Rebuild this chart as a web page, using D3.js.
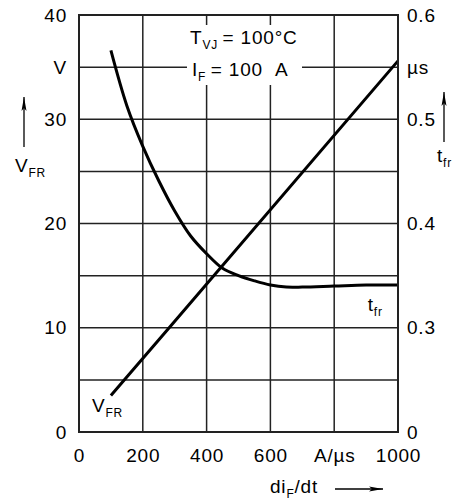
<!DOCTYPE html>
<html>
<head>
<meta charset="utf-8">
<script src="https://cdn.jsdelivr.net/npm/d3@7"></script>
<style>
  body { margin: 0; background: #fff; }
  text { font-family: "Liberation Sans", Arial, sans-serif; fill: #000; letter-spacing: 0.8px; }
</style>
</head>
<body>
<div class="chart"></div>
<script>
// diF/dt in A/us
var didt = [100, 150, 200, 250, 300, 350, 400, 450, 500, 550, 600, 650, 700, 800, 900, 1000];
// t_fr in us (right axis)
var tfr = [0.566, 0.513, 0.474, 0.441, 0.412, 0.388, 0.371, 0.357, 0.350, 0.345, 0.341, 0.339, 0.339, 0.340, 0.341, 0.341];
// V_FR in V (left axis)
var vfrX = [100, 280, 1000];
var vfr = [3.5, 9.9, 35.6];

var xTicks = [0, 200, 400, 600, 800, 1000];
var xLabels = ["0", "200", "400", "600", "A/\u00b5s", "1000"];
var yTicks = [0, 10, 20, 30, 35, 40];
var yLabels = ["0", "10", "20", "30", "V", "40"];
var y2Ticks = [0.2, 0.3, 0.4, 0.5, 0.55, 0.6];
var y2Labels = ["0", "0.3", "0.4", "0.5", "\u00b5s", "0.6"];
var hGrid = [5, 10, 15, 20, 25, 30, 35];
var vGrid = [200, 400, 600, 800];

var margin = {top: 15, right: 69, bottom: 72, left: 79},
    width = 467,
    height = 504,
    w = width - margin.left - margin.right,
    h = height - margin.top - margin.bottom;

var x = d3.scaleLinear().domain([0, 1000]).range([0, w]);
var y = d3.scaleLinear().domain([0, 40]).range([h, 0]);
var y2 = d3.scaleLinear().domain([0.2, 0.6]).range([h, 0]);

var svg = d3.select(".chart")
    .append("svg")
    .attr("width", width)
    .attr("height", height);

var g = svg.append("g")
    .attr("transform", "translate(" + margin.left + "," + margin.top + ")");

// grid
g.append("g").selectAll("line")
    .data(hGrid)
    .enter().append("line")
    .attr("x1", 0).attr("x2", w)
    .attr("y1", function(d) { return y(d); })
    .attr("y2", function(d) { return y(d); })
    .attr("stroke", "#222").attr("stroke-width", 1.5);

g.append("g").selectAll("line")
    .data(vGrid)
    .enter().append("line")
    .attr("y1", 0).attr("y2", h)
    .attr("x1", function(d) { return x(d); })
    .attr("x2", function(d) { return x(d); })
    .attr("stroke", "#222").attr("stroke-width", 1.5);

// curves
var lineT = d3.line()
    .curve(d3.curveCatmullRom)
    .x(function(d, i) { return x(didt[i]); })
    .y(function(d) { return y2(d); });

g.append("path")
    .attr("d", lineT(tfr))
    .attr("fill", "none")
    .attr("stroke", "#000")
    .attr("stroke-width", 3);

var lineV = d3.line()
    .x(function(d, i) { return x(vfrX[i]); })
    .y(function(d) { return y(d); });

g.append("path")
    .attr("d", lineV(vfr))
    .attr("fill", "none")
    .attr("stroke", "#000")
    .attr("stroke-width", 3);

// frame
g.append("rect")
    .attr("width", w).attr("height", h)
    .attr("fill", "none")
    .attr("stroke", "#222").attr("stroke-width", 2);

// axes
function styleAxis(sel) {
    sel.select(".domain").remove();
    sel.selectAll("text").attr("font-size", 19).style("font-family", "Liberation Sans, Arial, sans-serif");
}

g.append("g")
    .call(d3.axisLeft(y).tickValues(yTicks).tickSize(0).tickPadding(12)
        .tickFormat(function(d, i) { return yLabels[i]; }))
    .call(styleAxis);

g.append("g")
    .attr("transform", "translate(" + w + ",0)")
    .call(d3.axisRight(y2).tickValues(y2Ticks).tickSize(0).tickPadding(9)
        .tickFormat(function(d, i) { return y2Labels[i]; }))
    .call(styleAxis);

g.append("g")
    .attr("transform", "translate(0," + h + ")")
    .call(d3.axisBottom(x).tickValues(xTicks).tickSize(0).tickPadding(17)
        .tickFormat(function(d, i) { return xLabels[i]; }))
    .call(styleAxis);

// conditions box
g.append("rect")
    .attr("x", 108).attr("y", 10)
    .attr("width", 115).attr("height", 60)
    .attr("fill", "#fff");

var t1 = g.append("text").attr("x", 111).attr("y", 29).attr("font-size", 19);
t1.append("tspan").text("T");
t1.append("tspan").attr("font-size", 12).attr("dy", 5).text("VJ");
t1.append("tspan").attr("dy", -5).text("\u2009= 100\u00b0C");

var t2 = g.append("text").attr("x", 113).attr("y", 61).attr("font-size", 19);
t2.append("tspan").text("I");
t2.append("tspan").attr("font-size", 12).attr("dy", 5).text("F");
t2.append("tspan").attr("dy", -5).text("\u2009= 100\u00a0\u00a0A");

// curve labels
var lt = g.append("text").attr("x", x(905)).attr("y", y2(0.316)).attr("font-size", 19);
lt.append("tspan").text("t");
lt.append("tspan").attr("font-size", 12).attr("dy", 5).text("fr");

var lv = g.append("text").attr("x", 13).attr("y", y(1.9)).attr("font-size", 19);
lv.append("tspan").text("V");
lv.append("tspan").attr("font-size", 12).attr("dy", 5).text("FR");

// arrows
function arrow(x1, y1, x2, y2a) {
    svg.append("line")
        .attr("x1", x1).attr("y1", y1).attr("x2", x2).attr("y2", y2a)
        .attr("stroke", "#000").attr("stroke-width", 1.3);
    var ang = Math.atan2(y2a - y1, x2 - x1);
    var l = 14, s = 2.5;
    var p = [
        [x2, y2a],
        [x2 - l * Math.cos(ang) - s * Math.sin(ang), y2a - l * Math.sin(ang) + s * Math.cos(ang)],
        [x2 - (l - 3) * Math.cos(ang), y2a - (l - 3) * Math.sin(ang)],
        [x2 - l * Math.cos(ang) + s * Math.sin(ang), y2a - l * Math.sin(ang) - s * Math.cos(ang)]
    ];
    svg.append("path")
        .attr("d", "M" + p.join("L") + "Z")
        .attr("fill", "#000");
}

// left axis title
arrow(24, 147, 24, 97);
var ly = svg.append("text").attr("x", 15).attr("y", 172).attr("font-size", 19);
ly.append("tspan").text("V");
ly.append("tspan").attr("font-size", 12).attr("dy", 5).text("FR");

// right axis title
arrow(444, 142, 444, 92);
var ry = svg.append("text").attr("x", 437).attr("y", 162).attr("font-size", 19);
ry.append("tspan").text("t");
ry.append("tspan").attr("font-size", 12).attr("dy", 5).text("fr");

// x axis title
var lx = svg.append("text").attr("x", 270).attr("y", 493).attr("font-size", 19);
lx.append("tspan").text("di");
lx.append("tspan").attr("font-size", 12).attr("dy", 5).text("F");
lx.append("tspan").attr("dy", -5).text("/dt");
arrow(335, 489, 383, 489);
</script>
</body>
</html>
